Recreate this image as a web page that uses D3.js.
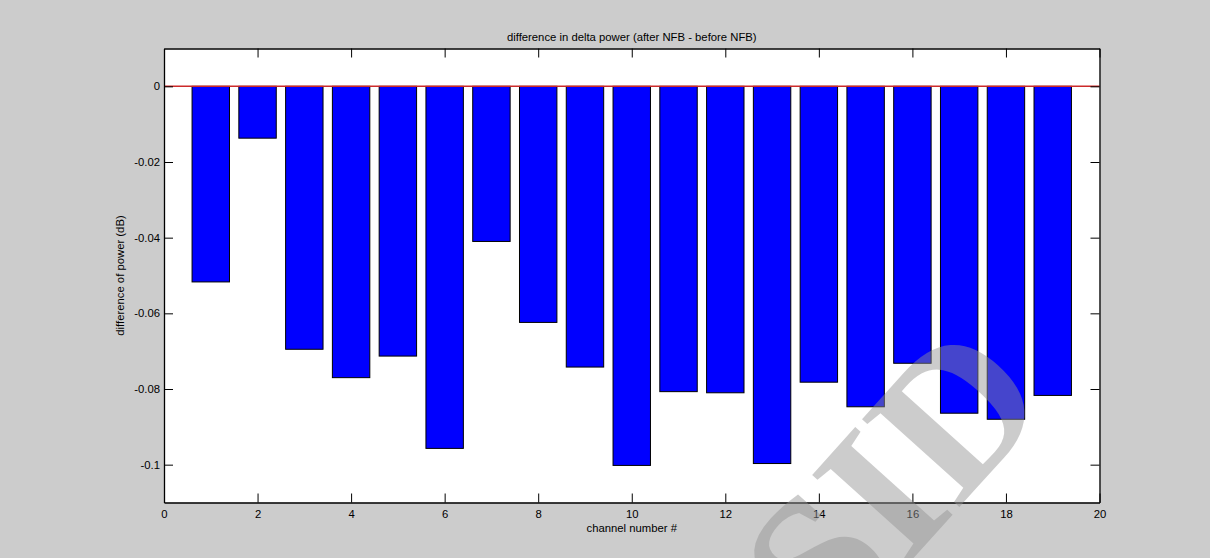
<!DOCTYPE html>
<html>
<head>
<meta charset="utf-8">
<script src="https://cdnjs.cloudflare.com/ajax/libs/d3/7.8.5/d3.min.js"></script>
<style>
  html, body { margin: 0; padding: 0; background: #cccccc; }
  svg { display: block; }
  text { font-family: "Liberation Sans", Arial, sans-serif; }
</style>
</head>
<body>
<svg id="chart" width="1210" height="558"></svg>
<script>
// ---- data ----
const channels = [1,2,3,4,5,6,7,8,9,10,11,12,13,14,15,16,17,18,19];
const deltaDiff = [-0.0517,-0.0137,-0.0695,-0.0770,-0.0713,-0.0957,-0.0410,-0.0624,-0.0742,-0.1002,
                   -0.0807,-0.0810,-0.0997,-0.0782,-0.0847,-0.0732,-0.0864,-0.0880,-0.0817];
const xTicks = [0,2,4,6,8,10,12,14,16,18,20];
const yTicks = [-0.1,-0.08,-0.06,-0.04,-0.02,0];
const xDomain = [0, 20];
const yDomain = [-0.11, 0.01];
const titleText = "difference in delta power (after NFB - before NFB)";
const xLabelText = "channel number #";
const yLabelText = "difference of power (dB)";
const watermarkText = "SID";

// ---- layout ----
const W = 1210, H = 558;
const L = 164, R = 1099.5, T = 48.5, B = 502.5;
const fs = 11.3;
const tickLen = 9;

const svg = d3.select("#chart");
svg.append("rect").attr("width", W).attr("height", H).attr("fill", "#cccccc");

const x = d3.scaleLinear().domain(xDomain).range([L, R]);
const y = d3.scaleLinear().domain(yDomain).range([B, T]);

// plot background
svg.append("rect").attr("x", L).attr("y", T).attr("width", R - L).attr("height", B - T).attr("fill", "#ffffff");

// bars
const bw = 0.8;
svg.append("g").selectAll("rect").data(channels).join("rect")
  .attr("x", (d) => x(d - bw / 2))
  .attr("width", (d) => x(d + bw / 2) - x(d - bw / 2))
  .attr("y", (d, i) => y(0))
  .attr("height", (d, i) => y(deltaDiff[i]) - y(0))
  .attr("fill", "#0000ff")
  .attr("stroke", "#000000")
  .attr("stroke-width", 1);

// zero line (red)
svg.append("line")
  .attr("x1", x(xDomain[0])).attr("x2", x(xDomain[1]))
  .attr("y1", y(0)).attr("y2", y(0))
  .attr("stroke", "#cc2a2a").attr("stroke-width", 1.5);

const fmtY = (d) => d === 0 ? "0" : String(+d.toFixed(2));

// axes with inward ticks
const gBottom = svg.append("g").attr("transform", `translate(0,${B})`)
  .call(d3.axisBottom(x).tickValues(xTicks).tickSizeInner(-tickLen).tickSizeOuter(0).tickPadding(7).tickFormat(d3.format("d")));
const gTop = svg.append("g").attr("transform", `translate(0,${T})`)
  .call(d3.axisTop(x).tickValues(xTicks).tickSizeInner(-tickLen).tickSizeOuter(0).tickFormat(""));
const gLeft = svg.append("g").attr("transform", `translate(${L},0)`)
  .call(d3.axisLeft(y).tickValues(yTicks).tickSizeInner(-tickLen).tickSizeOuter(0).tickPadding(4).tickFormat(fmtY));
const gRight = svg.append("g").attr("transform", `translate(${R},0)`)
  .call(d3.axisRight(y).tickValues(yTicks).tickSizeInner(-tickLen).tickSizeOuter(0).tickFormat(""));

[gBottom, gTop, gLeft, gRight].forEach(g => {
  g.selectAll(".domain").attr("stroke", "#000").attr("stroke-width", 1.3);
  g.selectAll(".tick line").attr("stroke", "#000").attr("stroke-width", 1);
  g.selectAll(".tick text").attr("fill", "#000").style("font-size", fs + "px")
   .style("font-family", "'Liberation Sans', Arial, sans-serif");
});

// titles
svg.append("text").attr("x", (L + R) / 2).attr("y", 41)
  .attr("text-anchor", "middle").style("font-size", fs + "px").attr("fill", "#000").text(titleText);
svg.append("text").attr("x", (L + R) / 2).attr("y", 532)
  .attr("text-anchor", "middle").style("font-size", fs + "px").attr("fill", "#000").text(xLabelText);
svg.append("text").attr("transform", `translate(124,${(T + B) / 2}) rotate(-90)`)
  .attr("text-anchor", "middle").style("font-size", fs + "px").attr("fill", "#000").text(yLabelText);

// watermark
svg.append("g").attr("transform", "translate(893,482) rotate(-48)")
  .append("text")
  .attr("x", 0).attr("y", 66)
  .attr("text-anchor", "middle")
  .style("font-family", "'Liberation Serif', 'DejaVu Serif', serif")
  .style("font-weight", "bold")
  .style("font-size", "200px")
  .attr("fill", "rgb(146,146,146)")
  .attr("fill-opacity", 0.47)
  .text(watermarkText);
</script>
</body>
</html>
